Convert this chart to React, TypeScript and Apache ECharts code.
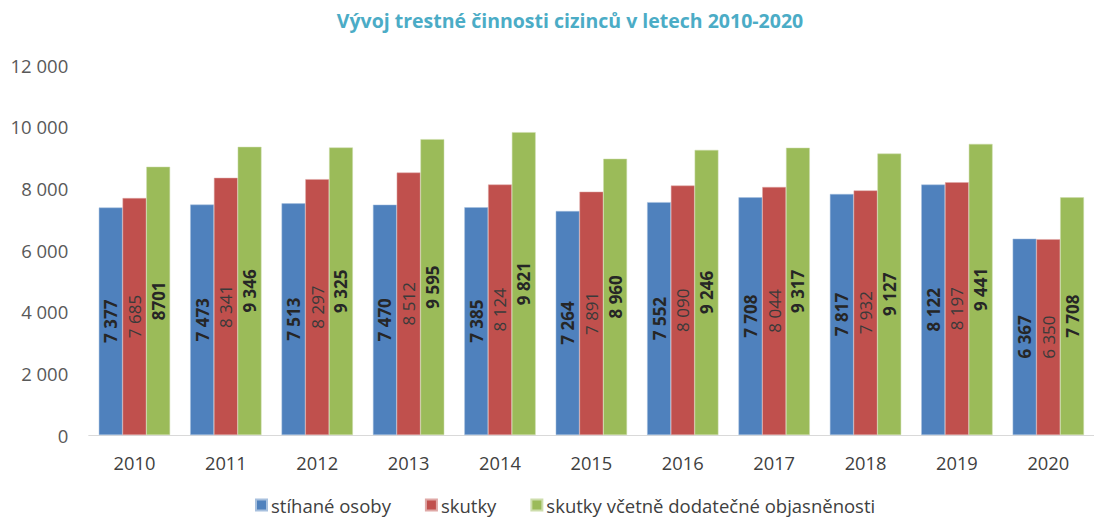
import React, { useEffect, useRef } from "react";
import * as echarts from "echarts";

const years = ["2010", "2011", "2012", "2013", "2014", "2015", "2016", "2017", "2018", "2019", "2020"];
const stihaneOsoby = [7377, 7473, 7513, 7470, 7385, 7264, 7552, 7708, 7817, 8122, 6367];
const skutky = [7685, 8341, 8297, 8512, 8124, 7891, 8090, 8044, 7932, 8197, 6350];
const skutkyVcetne = [8701, 9346, 9325, 9595, 9821, 8960, 9246, 9317, 9127, 9441, 7708];
const skutkyVcetneLabels = ["8701", "9 346", "9 325", "9 595", "9 821", "8 960", "9 246", "9 317", "9 127", "9 441", "7 708"];
const yTicks = [0, 2000, 4000, 6000, 8000, 10000, 12000];

const fmt = (v: number) => {
  const s = String(Math.round(v));
  return s.replace(/\B(?=(\d{3})+(?!\d))/g, " ");
};

const FONT = "Open Sans";

export default function App() {
  const ref = useRef<HTMLDivElement>(null);
  useEffect(() => {
    if (!ref.current) return;
    const chart = echarts.init(ref.current, undefined, { renderer: "svg" });
    const labelBase = {
      show: true,
      position: "inside" as const,
      rotate: 90,
      fontFamily: FONT,
      fontSize: 17,
      color: "#262626",
    };
    chart.setOption({
      animation: false,
      backgroundColor: "#ffffff",
      title: {
        text: "Vývoj trestné činnosti cizinců v letech 2010-2020",
        left: 565,
        top: 5,
        textAlign: "center",
        textStyle: { color: "#4BACC6", fontFamily: FONT, fontWeight: "bold", fontSize: 19.5 },
      },
      legend: {
        top: 490,
        left: 250,
        itemWidth: 11,
        itemHeight: 11,
        itemGap: 34,
        icon: "rect",
        textStyle: { fontFamily: FONT, fontSize: 18.5, lineHeight: 20, color: "#404040", padding: [0, 0, 0, -1] },
        data: ["stíhané osoby", "skutky", "skutky včetně dodatečné objasněnosti"],
      },
      grid: { left: 88.75, right: -12.25, top: 65, bottom: 83, containLabel: false },
      xAxis: {
        type: "category",
        data: years,
        axisLine: { show: true, lineStyle: { color: "#D9D9D9", width: 1 } },
        axisTick: { show: false },
        axisLabel: { fontFamily: FONT, fontSize: 18.3, color: "#404040", margin: 18 },
      },
      yAxis: {
        type: "value",
        min: 0,
        max: 12000,
        interval: 2000,
        splitLine: { show: false },
        axisLine: { show: false },
        axisTick: { show: false },
        axisLabel: {
          fontFamily: FONT,
          fontSize: 18.5,
          color: "#595959",
          margin: 20.5,
          formatter: (v: number) => (yTicks.includes(v) ? fmt(v) : ""),
        },
      },
      series: [
        {
          name: "stíhané osoby",
          type: "bar",
          data: stihaneOsoby,
          barGap: "0%",
          barCategoryGap: "22%",
          itemStyle: { color: "#4F81BD", borderColor: "#A7C0DE", borderWidth: 0.5 },
          label: { ...labelBase, fontWeight: "bold", formatter: (p: any) => fmt(p.value) },
        },
        {
          name: "skutky",
          type: "bar",
          data: skutky,
          barGap: "0%",
          barCategoryGap: "22%",
          itemStyle: { color: "#C0504D", borderColor: "#DFA8A6", borderWidth: 0.5 },
          label: { ...labelBase, color: "#3a3a3a", fontWeight: "normal", formatter: (p: any) => fmt(p.value) },
        },
        {
          name: "skutky včetně dodatečné objasněnosti",
          type: "bar",
          data: skutkyVcetne,
          barGap: "0%",
          barCategoryGap: "22%",
          itemStyle: { color: "#9BBB59", borderColor: "#CDDDAC", borderWidth: 0.5 },
          label: { ...labelBase, fontWeight: "bold", formatter: (p: any) => skutkyVcetneLabels[p.dataIndex] },
        },
      ],
    });
    return () => chart.dispose();
  }, []);
  return (
    <div
      ref={ref}
      style={{ position: "fixed", left: 0, top: 0, width: 1094, height: 518 }}
    />
  );
}
